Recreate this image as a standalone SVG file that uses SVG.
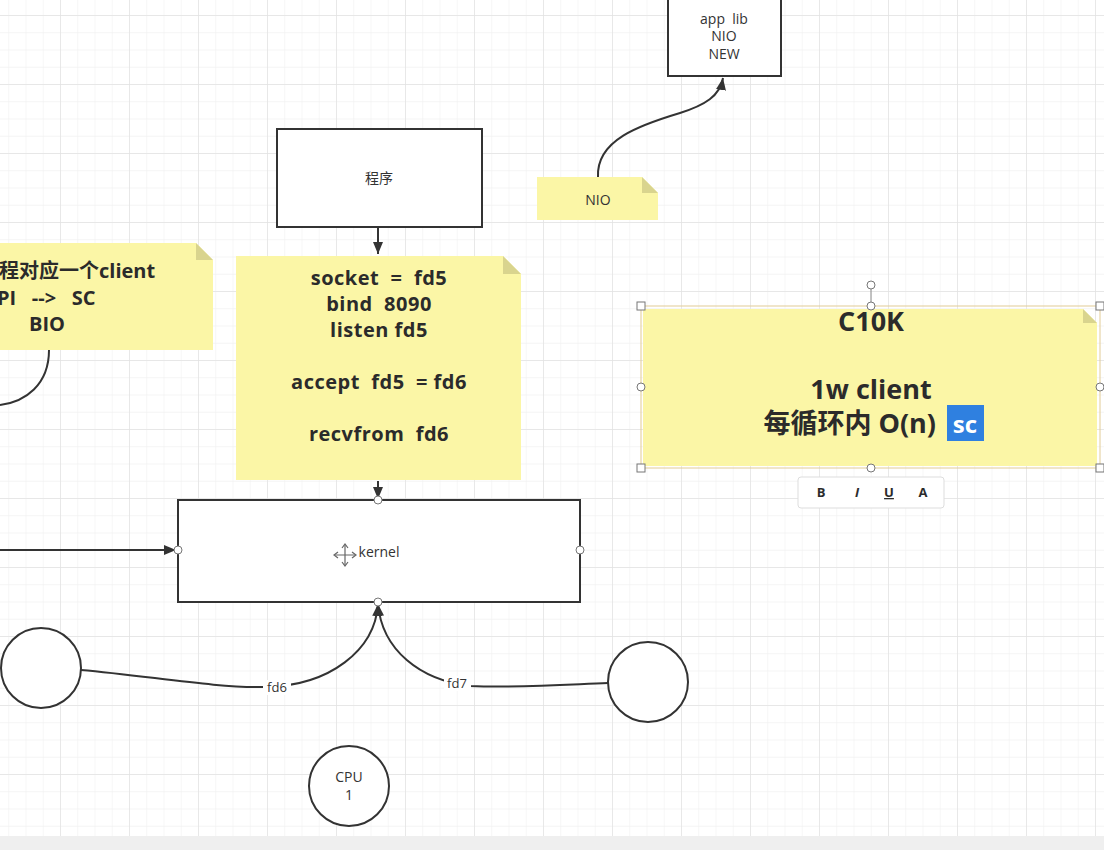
<svg xmlns="http://www.w3.org/2000/svg" width="1104" height="850" viewBox="0 0 1104 850">
<style>
.box{fill:#fff;stroke:#333;stroke-width:2}
.note{fill:#fbf6a6}
.fold{fill:#d9d48e}
.conn{fill:none;stroke:#333;stroke-width:2}
.t{font-family:"Open Sans","Noto Sans CJK SC",sans-serif;fill:#333;text-anchor:middle;white-space:pre}
.b{font-weight:bold;fill:#2b2b2b}
.code{font-size:20px;letter-spacing:0.5px}
.pt{fill:#fff;stroke:#777;stroke-width:1}
</style>
<defs>
<pattern id="gmin" x="60" y="15" width="17.25" height="17.25" patternUnits="userSpaceOnUse">
<path d="M0,0H17.25M0,0V17.25" fill="none" stroke="#f1f1f1" stroke-width="1.2"/>
</pattern>
<pattern id="gmaj" x="60" y="15" width="69" height="69" patternUnits="userSpaceOnUse">
<path d="M0,0H69M0,0V69" fill="none" stroke="#e3e3e3" stroke-width="1.5"/>
</pattern>
<marker id="ah" markerWidth="13" markerHeight="10" refX="12" refY="5" orient="auto" markerUnits="userSpaceOnUse">
<path d="M0,0L12,5L0,10z" fill="#333"/>
</marker>
</defs>
<rect width="1104" height="850" fill="#fff"/>
<rect width="1104" height="836" fill="url(#gmin)"/>
<rect width="1104" height="836" fill="url(#gmaj)"/>
<rect y="836" width="1104" height="14" fill="#efefef"/>

<g id="connectors">
<path class="conn" d="M598,177C596,140 640,125 680,113C705,105 720,96 723,78" marker-end="url(#ah)"/>
<path class="conn" d="M378,228V254" marker-end="url(#ah)"/>
<path class="conn" d="M378,481V499" marker-end="url(#ah)"/>
<path class="conn" d="M0,550H176" marker-end="url(#ah)"/>
<path class="conn" d="M49,350C49,385 25,402 0,405"/>
<path class="conn" d="M81,670C150,676 215,688 265,687C330,686 375,650 378,604" marker-end="url(#ah)"/>
<path class="conn" d="M608,683C560,685 520,688 470,686C420,680 382,650 378,604" marker-end="url(#ah)"/>
<rect x="263" y="680" width="28" height="15" fill="#fff"/>
<text class="t" x="277" y="692" font-size="13" fill="#555">fd6</text>
<rect x="444" y="676" width="27" height="15" fill="#fff"/>
<text class="t" x="457" y="688" font-size="13" fill="#555">fd7</text>
</g>

<g id="applib">
<rect class="box" x="668" y="-10" width="113" height="86"/>
<text class="t" x="724" y="24" font-size="14" fill="#444">app  lib</text>
<text class="t" x="724" y="41" font-size="14" fill="#444">NIO</text>
<text class="t" x="724" y="59" font-size="14" fill="#444">NEW</text>
</g>

<g id="nio-note">
<path class="note" d="M537,177H642L658,193V220H537Z"/>
<path class="fold" d="M642,177L658,193H642Z"/>
<text class="t" x="598" y="205" font-size="14" fill="#444">NIO</text>
</g>

<g id="program">
<rect class="box" x="277" y="129" width="205" height="98"/>
<text class="t" x="379" y="183" font-size="14" fill="#444">程序</text>
</g>

<g id="code-note">
<path class="note" d="M236,256H503L521,274V480H236Z"/>
<path class="fold" d="M503,256L521,274H503Z"/>
<text class="t b code" x="379" y="285">socket  =  fd5</text>
<text class="t b code" x="379" y="311">bind  8090</text>
<text class="t b code" x="379" y="337">listen fd5</text>
<text class="t b code" x="379" y="389">accept  fd5  = fd6</text>
<text class="t b code" x="379" y="441">recvfrom  fd6</text>
</g>

<g id="left-note">
<path class="note" d="M-20,243H196L213,260V350H-20Z"/>
<path class="fold" d="M196,243L213,260H196Z"/>
<text class="t b" x="-1" y="278" font-size="20" style="text-anchor:start">程对应一个client</text>
<text class="t b" x="-3" y="305" font-size="20" style="text-anchor:start">PI   -->   SC</text>
<text class="t b" x="29" y="331" font-size="20" style="text-anchor:start">BIO</text>
</g>

<g id="kernel">
<rect class="box" x="178" y="500" width="402" height="102"/>
<g stroke="#666" stroke-width="1.2" fill="none">
<path d="M345,545V565M335,555H355"/>
<path d="M342,548L345,544L348,548M342,562L345,566L348,562M338,552L334,555L338,558M352,552L356,555L352,558"/>
</g>
<text class="t" x="379" y="557" font-size="14" fill="#555">kernel</text>
<circle class="pt" cx="378" cy="500" r="4"/>
<circle class="pt" cx="178" cy="550" r="4"/>
<circle class="pt" cx="580" cy="550" r="4"/>
<circle class="pt" cx="378" cy="602" r="4"/>
</g>

<g id="c10k-note">
<path class="note" d="M643,309H1083L1097,323V466H643Z"/>
<path class="fold" d="M1083,309L1097,323H1083Z"/>
<rect x="641" y="306" width="459" height="162" fill="none" stroke="#e2cc96" stroke-width="1"/>
<text class="t b" x="871" y="331" font-size="27">C10K</text>
<text class="t b" x="871" y="399" font-size="27">1w client</text>
<text class="t b" x="936" y="433" font-size="27" style="text-anchor:end">每循环内 O(n)</text>
<rect x="947" y="405" width="37" height="36" fill="#2f80e0"/>
<text class="t b" x="965" y="433" font-size="24" style="fill:#fff">sc</text>
<line x1="871" y1="289" x2="871" y2="306" stroke="#888" stroke-width="1"/>
<circle class="pt" cx="871" cy="285" r="4"/>
<circle class="pt" cx="871" cy="306" r="4"/>
<circle class="pt" cx="641" cy="387" r="4"/>
<circle class="pt" cx="1100" cy="387" r="4"/>
<circle class="pt" cx="871" cy="468" r="4"/>
<rect class="pt" x="637" y="302" width="8" height="8"/>
<rect class="pt" x="1096" y="302" width="8" height="8"/>
<rect class="pt" x="637" y="464" width="8" height="8"/>
<rect class="pt" x="1096" y="464" width="8" height="8"/>
</g>

<g id="toolbar">
<rect x="798" y="477" width="146" height="31" rx="3" fill="#fff" stroke="#ddd" stroke-width="1"/>
<text class="t b" x="821" y="497" font-size="13">B</text>
<text class="t b" x="857" y="497" font-size="13" font-style="italic">I</text>
<text class="t b" x="889" y="497" font-size="13" text-decoration="underline">U</text>
<text class="t b" x="923" y="497" font-size="13">A</text>
</g>

<g id="client1"><circle class="box" cx="41" cy="668" r="40"/></g>
<g id="client2"><circle class="box" cx="648" cy="682" r="40"/></g>
<g id="cpu">
<circle class="box" cx="349" cy="786" r="40"/>
<text class="t" x="349" y="782" font-size="14" fill="#555">CPU</text>
<text class="t" x="349" y="800" font-size="14" fill="#555">1</text>
</g>
</svg>
